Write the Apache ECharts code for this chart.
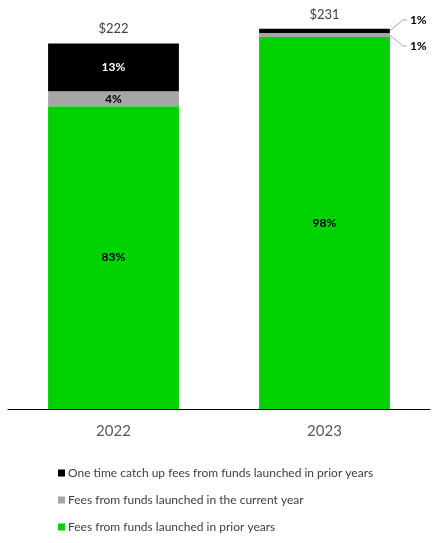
<!DOCTYPE html>
<html><head><meta charset="utf-8">
<script src="https://cdn.jsdelivr.net/npm/echarts@6/dist/echarts.min.js"></script>
<style>html,body{margin:0;padding:0;background:#fff}#c{width:439px;height:543px}</style>
</head><body><div id="c"></div>
<script>
const categories = ['2022', '2023'];
const totals = [222, 231];
const totalLabels = ['$222', '$231'];
const priorYears = [184, 226];
const currentYear = [9, 2.5];
const catchUp = [29, 2.5];
const priorPct = ['83%', '98%'];
const currentPct = ['4%', '1%'];
const catchUpPct = ['13%', '1%'];
const names = [
  'One time catch up fees from funds launched in prior years',
  'Fees from funds launched in the current year',
  'Fees from funds launched in prior years'
];
const FONT = 'Lato';
const BAR_RATIO = 0.62;
// callouts for the thin 2023 segments: [category index, segment mid value, direction, label]
const calloutData = [
  [1, priorYears[1] + currentYear[1] / 2, 1, currentPct[1]],
  [1, priorYears[1] + currentYear[1] + catchUp[1] / 2, -1, catchUpPct[1]]
];
const chart = echarts.init(document.getElementById('c'));
const hideIdx1 = (arr) => arr.map((v, i) => i === 1 ? { value: v, label: { show: false } } : v);
chart.setOption({
  animation: false,
  textStyle: { fontFamily: FONT },
  grid: { left: 8, right: 9, top: 14, bottom: 134 },
  legend: {
    orient: 'vertical', left: 53, top: 462, itemGap: 15,
    itemWidth: 7, itemHeight: 7, icon: 'rect',
    data: names,
    textStyle: { fontFamily: FONT, fontSize: 12, color: '#404040', padding: [0, 0, 0, -2] }
  },
  xAxis: {
    type: 'category', data: categories,
    axisLine: { lineStyle: { color: '#000', width: 1 } },
    axisTick: { show: false },
    axisLabel: { fontFamily: FONT, fontSize: 15, color: '#595959', margin: 15 }
  },
  yAxis: { type: 'value', min: 0, max: 240, show: false, splitLine: { show: false } },
  series: [
    {
      name: names[2], type: 'bar', stack: 't', barWidth: (BAR_RATIO * 100) + '%',
      itemStyle: { color: '#00d100' }, data: priorYears,
      label: { show: true, position: 'inside', fontFamily: FONT, fontSize: 12, fontWeight: 'bold', color: '#000',
        formatter: p => priorPct[p.dataIndex] }
    },
    {
      name: names[1], type: 'bar', stack: 't',
      itemStyle: { color: '#a6a6a6' },
      data: hideIdx1(currentYear),
      label: { show: true, position: 'inside', fontFamily: FONT, fontSize: 12, fontWeight: 'bold', color: '#000',
        formatter: p => currentPct[p.dataIndex] }
    },
    {
      name: names[0], type: 'bar', stack: 't',
      itemStyle: { color: '#000' },
      data: hideIdx1(catchUp),
      label: { show: true, position: 'inside', fontFamily: FONT, fontSize: 12, fontWeight: 'bold', color: '#fff',
        formatter: p => catchUpPct[p.dataIndex] }
    },
    {
      name: 'total', type: 'bar', stack: 't', data: totals.map(() => 0),
      itemStyle: { color: 'transparent' }, silent: true,
      label: { show: true, position: 'top', distance: 8, fontFamily: FONT, fontSize: 13, color: '#404040',
        formatter: p => totalLabels[p.dataIndex] }
    },
    {
      name: 'callouts', type: 'custom', silent: true, z: 5,
      data: calloutData,
      renderItem: function (params, api) {
        const c = api.coord([api.value(0), api.value(1)]);
        const band = api.size([1, 0])[0];
        const dir = api.value(2);
        const x0 = c[0] + band * BAR_RATIO / 2;
        const y0 = c[1];
        const x1 = x0 + 13, y1 = y0 + dir * 11;
        const x2 = x1 + 4;
        return {
          type: 'group',
          children: [
            { type: 'polyline', shape: { points: [[x0, y0], [x1, y1], [x2, y1]] },
              style: { stroke: '#a6a6a6', lineWidth: 1, fill: null } },
            { type: 'text', x: x2 + 3, y: y1,
              style: { text: calloutData[params.dataIndex][3], fill: '#000', font: 'bold 12px ' + FONT,
                textAlign: 'left', textVerticalAlign: 'middle' } }
          ]
        };
      }
    }
  ]
});
</script></body></html>
